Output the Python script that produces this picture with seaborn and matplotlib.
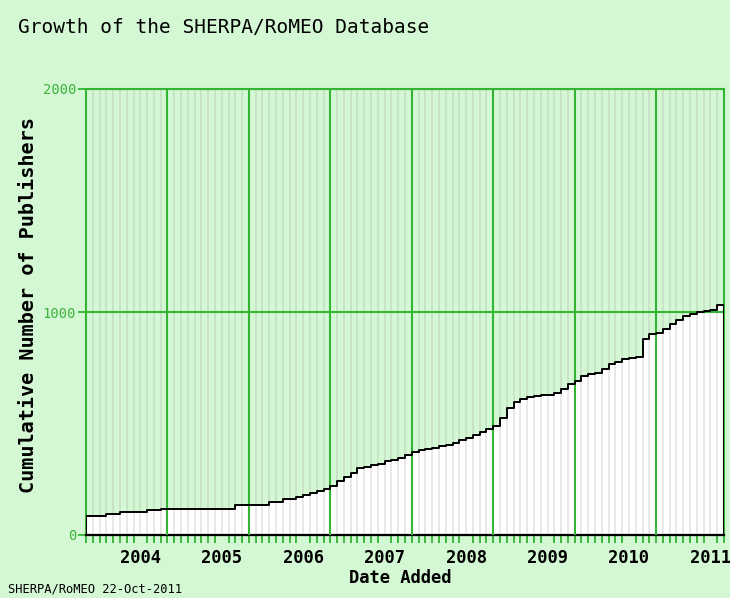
import matplotlib
matplotlib.use("Agg")
import matplotlib.pyplot as plt
import seaborn as sns
import numpy as np
import pandas as pd

# Cumulative number of publishers, one value per month (first month ~ Nov 2003)
counts = [84, 84, 84, 94, 94, 104, 104, 104, 104, 112, 112, 118,
          118, 118, 118, 118, 118, 118, 118, 118, 118, 118, 133, 133,
          133, 133, 133, 149, 149, 160, 160, 169, 180, 187, 197, 208,
          221, 240, 262, 280, 300, 305, 314, 318, 330, 336, 345, 359,
          372, 381, 384, 392, 398, 404, 414, 424, 436, 450, 462, 474,
          489, 525, 570, 598, 610, 620, 624, 628, 630, 636, 655, 675,
          690, 712, 720, 725, 745, 765, 778, 788, 795, 800, 880, 901,
          906, 925, 945, 966, 980, 990, 1000, 1003, 1010, 1031]
year_labels = ["2004", "2005", "2006", "2007", "2008", "2009", "2010", "2011"]
year_label_month = [8, 20, 32, 44, 56, 68, 80, 92]
year_grid_month = [12, 24, 36, 48, 60, 72, 84]
y_ticks = [0, 1000, 2000]

bg = "#d4f7d4"
green = "#33b533"
label_green = "#3cb43c"

n = len(counts)
months = np.arange(n + 1)
vals = counts + [counts[-1]]

sns.set_style("white")
plt.rcParams["font.family"] = ["DejaVu Sans Mono"]
plt.rcParams["text.color"] = "black"

fig = plt.figure(figsize=(7.3, 5.98), dpi=100, facecolor=bg)
ax = fig.add_axes([86 / 730, 63 / 598, 638 / 730, 446 / 598])
ax.set_facecolor(bg)

# white area under the curve
ax.fill_between(months, vals, step="post", color="white", zorder=1)

# thin monthly lines
minor = [m for m in range(1, n) if m not in year_grid_month]
ax.vlines(minor, 0, 2000, color="#a8a8a8", alpha=0.3, linewidth=1.2, zorder=2)

# year and 1000-step grid
ax.vlines(year_grid_month, 0, 2000, color=green, linewidth=1.5, zorder=3)
ax.hlines([1000, 2000], 0, n, color=green, linewidth=1.5, zorder=3)

# step outline
outline = pd.DataFrame({
    "month": [0] + list(months) + [n],
    "count": [0] + vals + [0],
})
sns.lineplot(data=outline, x="month", y="count", estimator=None, sort=False,
             drawstyle="steps-post", color="black", linewidth=1.4, ax=ax, zorder=4)

ax.set_xlim(0, n)
ax.set_ylim(0, 2000)

ax.set_xticks(year_label_month)
ax.set_xticklabels(year_labels, fontsize=12.3, fontweight="bold")
ax.set_xticks(range(0, n + 1), minor=True)
ax.tick_params(axis="x", which="both", bottom=True)
ax.tick_params(axis="x", which="major", length=0, pad=10, colors="black")
ax.tick_params(axis="x", which="minor", length=6, width=1.3, color=green, direction="out")

ax.set_yticks(y_ticks)
ax.set_yticklabels([str(v) for v in y_ticks], fontsize=10)
ax.tick_params(axis="y", left=True, length=6, width=1.3, color=green,
               labelcolor=label_green, pad=1)

ax.set_xlabel("")
ax.set_ylabel("")
for side in ["left", "top", "right"]:
    ax.spines[side].set_color(green)
    ax.spines[side].set_linewidth(1.5)
ax.spines["bottom"].set_color("black")
ax.spines["bottom"].set_linewidth(1.6)

fig.text(18 / 730, 1 - 18 / 598, "Growth of the SHERPA/RoMEO Database",
         fontsize=14, ha="left", va="top")
fig.text(29 / 730, 1 - 305 / 598, "Cumulative Number of Publishers",
         fontsize=14.5, fontweight="bold", rotation=90, ha="center", va="center")
fig.text(400 / 730, 1 - 578 / 598, "Date Added",
         fontsize=12.3, fontweight="bold", ha="center", va="center")
fig.text(8 / 730, 1 - 589 / 598, "SHERPA/RoMEO 22-Oct-2011",
         fontsize=8.7, ha="left", va="center")

fig.savefig("out.png", dpi=100, facecolor=bg)
